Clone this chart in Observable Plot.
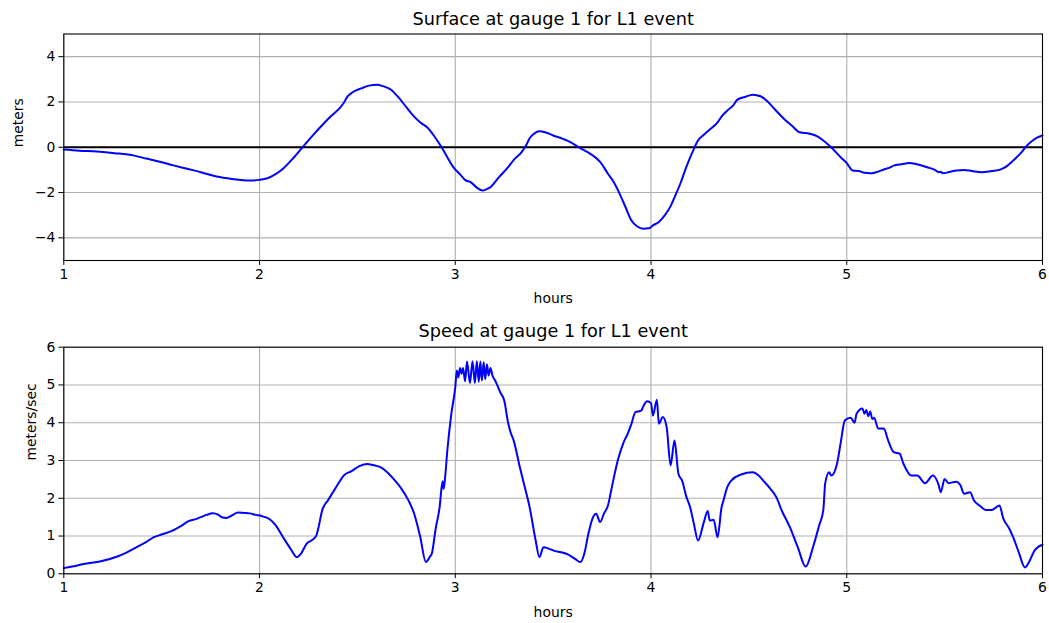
<!DOCTYPE html>
<html>
<head>
<meta charset="utf-8">
<script src="https://cdn.jsdelivr.net/npm/d3@7"></script>
<script src="https://cdn.jsdelivr.net/npm/@observablehq/plot@0.6"></script>
<style>
  html, body { margin: 0; padding: 0; background: white; }
  #chart svg { display: block; }
</style>
</head>
<body>
<div id="chart"></div>
<script>
// ---- data ----
const surfaceHours = [1.00,1.08,1.17,1.26,1.36,1.42,1.49,1.56,1.63,1.70,1.78,1.86,1.95,2.00,2.04,2.08,2.12,2.17,2.22,2.28,2.35,2.43,2.45,2.48,2.52,2.56,2.60,2.63,2.67,2.71,2.75,2.79,2.82,2.86,2.89,2.93,2.96,2.99,3.03,3.05,3.08,3.11,3.14,3.16,3.18,3.22,3.27,3.30,3.34,3.36,3.38,3.41,3.43,3.46,3.50,3.55,3.59,3.63,3.69,3.74,3.78,3.81,3.84,3.87,3.90,3.93,3.96,3.99,4.01,4.04,4.07,4.10,4.12,4.15,4.18,4.21,4.24,4.27,4.30,4.34,4.36,4.39,4.42,4.44,4.48,4.52,4.56,4.59,4.63,4.68,4.72,4.76,4.81,4.85,4.88,4.92,4.97,5.00,5.03,5.06,5.09,5.12,5.15,5.19,5.22,5.24,5.28,5.32,5.36,5.41,5.45,5.47,5.48,5.49,5.53,5.56,5.60,5.64,5.69,5.74,5.78,5.82,5.85,5.89,5.92,5.95,5.97,6.00];
const surfaceMeters = [-0.10,-0.15,-0.19,-0.26,-0.37,-0.50,-0.64,-0.80,-0.95,-1.10,-1.29,-1.40,-1.47,-1.44,-1.37,-1.20,-0.95,-0.50,0.00,0.60,1.25,1.95,2.25,2.45,2.60,2.72,2.76,2.70,2.55,2.20,1.77,1.35,1.10,0.85,0.52,0.00,-0.45,-0.88,-1.25,-1.44,-1.55,-1.78,-1.91,-1.85,-1.76,-1.35,-0.88,-0.55,-0.20,0.05,0.40,0.65,0.71,0.66,0.52,0.37,0.22,0.00,-0.29,-0.65,-1.17,-1.55,-2.06,-2.65,-3.23,-3.50,-3.60,-3.58,-3.45,-3.30,-3.01,-2.60,-2.21,-1.60,-0.88,-0.25,0.30,0.55,0.78,1.10,1.35,1.62,1.85,2.09,2.22,2.32,2.25,2.06,1.70,1.25,0.95,0.66,0.60,0.48,0.30,0.00,-0.45,-0.70,-1.03,-1.05,-1.13,-1.15,-1.10,-0.98,-0.90,-0.81,-0.75,-0.69,-0.75,-0.88,-1.00,-1.10,-1.08,-1.15,-1.08,-1.03,-1.00,-1.05,-1.10,-1.05,-1.00,-0.82,-0.59,-0.25,0.07,0.30,0.41,0.52];

const speedHours = [1.00,1.05,1.10,1.19,1.27,1.32,1.37,1.42,1.46,1.50,1.55,1.60,1.64,1.67,1.70,1.73,1.76,1.79,1.81,1.83,1.86,1.89,1.92,1.95,1.98,2.01,2.05,2.08,2.12,2.16,2.19,2.21,2.24,2.27,2.29,2.30,2.32,2.35,2.38,2.41,2.43,2.47,2.51,2.55,2.58,2.62,2.66,2.69,2.72,2.76,2.79,2.82,2.85,2.87,2.88,2.90,2.92,2.935,2.94,2.945,2.96,2.98,3.00,3.008,3.016,3.024,3.032,3.040,3.050,3.060,3.075,3.088,3.100,3.110,3.120,3.128,3.136,3.145,3.153,3.162,3.170,3.180,3.190,3.200,3.210,3.23,3.25,3.27,3.28,3.30,3.33,3.35,3.38,3.41,3.43,3.45,3.48,3.51,3.54,3.58,3.61,3.64,3.66,3.68,3.70,3.72,3.74,3.76,3.78,3.80,3.83,3.86,3.88,3.90,3.92,3.95,3.96,3.98,4.00,4.01,4.03,4.04,4.06,4.08,4.10,4.12,4.14,4.16,4.18,4.20,4.22,4.24,4.27,4.29,4.30,4.32,4.34,4.36,4.37,4.39,4.41,4.46,4.52,4.55,4.58,4.61,4.64,4.67,4.71,4.75,4.79,4.83,4.86,4.88,4.89,4.91,4.92,4.95,4.97,4.99,5.02,5.04,5.05,5.08,5.09,5.10,5.11,5.12,5.13,5.14,5.16,5.19,5.21,5.24,5.27,5.29,5.33,5.36,5.40,5.44,5.47,5.48,5.50,5.52,5.56,5.58,5.60,5.63,5.65,5.68,5.71,5.74,5.78,5.80,5.83,5.85,5.88,5.91,5.93,5.96,5.98,6.00];
const speedValues = [0.15,0.20,0.26,0.33,0.45,0.56,0.70,0.84,0.97,1.04,1.13,1.27,1.40,1.44,1.50,1.56,1.60,1.56,1.49,1.48,1.55,1.62,1.61,1.60,1.56,1.53,1.45,1.30,0.97,0.65,0.44,0.52,0.79,0.90,1.01,1.20,1.68,1.95,2.20,2.45,2.60,2.72,2.85,2.91,2.88,2.82,2.65,2.48,2.29,1.95,1.59,1.00,0.31,0.45,0.53,1.20,1.76,2.45,2.25,2.40,3.30,4.24,4.94,5.38,5.20,5.45,5.30,5.45,5.10,5.62,5.05,5.63,5.05,5.63,5.08,5.62,5.12,5.60,5.15,5.55,5.25,5.45,5.25,5.15,5.05,4.80,4.59,4.00,3.79,3.50,2.82,2.40,1.76,0.90,0.44,0.70,0.66,0.60,0.57,0.50,0.40,0.31,0.55,1.06,1.45,1.59,1.37,1.60,1.81,2.30,3.00,3.48,3.70,3.97,4.28,4.32,4.43,4.57,4.52,4.19,4.61,3.97,4.15,3.88,2.87,3.53,2.65,2.45,2.05,1.76,1.30,0.88,1.37,1.66,1.41,1.43,0.97,1.75,1.94,2.30,2.47,2.63,2.69,2.60,2.43,2.25,2.03,1.65,1.23,0.70,0.19,0.75,1.30,1.68,2.40,2.69,2.60,2.91,3.50,4.06,4.13,4.00,4.24,4.38,4.24,4.34,4.17,4.30,4.10,4.13,3.85,3.84,3.55,3.22,3.18,2.91,2.60,2.60,2.40,2.60,2.34,2.16,2.51,2.40,2.44,2.35,2.12,2.16,1.94,1.80,1.69,1.69,1.81,1.46,1.20,0.97,0.55,0.17,0.30,0.62,0.72,0.77];

const xTicks = [1, 2, 3, 4, 5, 6];
const xTickLabels = ["1", "2", "3", "4", "5", "6"];
const surfaceYTicks = [-4, -2, 0, 2, 4];
const surfaceYTickLabels = ["\u22124", "\u22122", "0", "2", "4"];
const speedYTicks = [0, 1, 2, 3, 4, 5, 6];
const speedYTickLabels = ["0", "1", "2", "3", "4", "5", "6"];

const titles = ["Surface at gauge 1 for L1 event", "Speed at gauge 1 for L1 event"];
const xLabel = "hours";
const yLabels = ["meters", "meters/sec"];

// ---- build ----
const surface = surfaceHours.map((h, i) => ({h, v: surfaceMeters[i]}));
const speed = speedHours.map((h, i) => ({h, v: speedValues[i]}));

const W = 1049;
const FONT = "DejaVu Sans";
const gridColor = "#b0b0b0";

function panel({data, height, marginTop, marginBottom, yDomain, yTicks, yTickLabels, title, titleDy, yLabel, yLabelDx, zeroLine}) {
  const fmtX = d => xTickLabels[xTicks.indexOf(d)];
  const fmtY = d => yTickLabels[yTicks.indexOf(d)];
  return Plot.plot({
    width: W,
    height,
    marginLeft: 63.3,
    marginRight: 7,
    marginTop,
    marginBottom,
    style: {fontFamily: FONT, fontSize: "13.9px", background: "white", color: "black", overflow: "visible"},
    x: {domain: [1, 6]},
    y: {domain: yDomain},
    marks: [
      Plot.gridX(xTicks, {stroke: gridColor, strokeOpacity: 1, strokeWidth: 1.1}),
      Plot.gridY(yTicks, {stroke: gridColor, strokeOpacity: 1, strokeWidth: 1.1}),
      zeroLine ? Plot.ruleY([0], {stroke: "black", strokeWidth: 2}) : null,
      Plot.line(data, {x: "h", y: "v", stroke: "blue", strokeWidth: 2, curve: "monotone-x"}),
      Plot.frame({stroke: "black", strokeWidth: 1.1}),
      Plot.axisX(xTicks, {tickFormat: fmtX, tickSize: 4.9, tickPadding: 3.5, label: null, fontSize: 13.9}),
      Plot.axisY(yTicks, {tickFormat: fmtY, tickSize: 4.9, tickPadding: 3.5, label: null, fontSize: 13.9}),
      Plot.text([title], {frameAnchor: "top", dy: titleDy, fontSize: 17.7, fill: "black", lineAnchor: "middle"}),
      Plot.text([xLabel], {frameAnchor: "bottom", dy: 38.3, fontSize: 13.9, fill: "black", lineAnchor: "middle"}),
      Plot.text([yLabel], {frameAnchor: "left", dx: yLabelDx, rotate: -90, fontSize: 13.9, fill: "black", lineAnchor: "middle"})
    ]
  });
}

const chart = document.getElementById("chart");
chart.appendChild(panel({
  data: surface, height: 310, marginTop: 33.5, marginBottom: 50,
  yDomain: [-5, 5], yTicks: surfaceYTicks, yTickLabels: surfaceYTickLabels,
  title: titles[0], titleDy: -14.2, yLabel: yLabels[0], yLabelDx: -45, zeroLine: true
}));
chart.appendChild(panel({
  data: speed, height: 313, marginTop: 36.7, marginBottom: 49.7,
  yDomain: [0, 6], yTicks: speedYTicks, yTickLabels: speedYTickLabels,
  title: titles[1], titleDy: -15.4, yLabel: yLabels[1], yLabelDx: -32.7, zeroLine: false
}));
</script>
</body>
</html>
